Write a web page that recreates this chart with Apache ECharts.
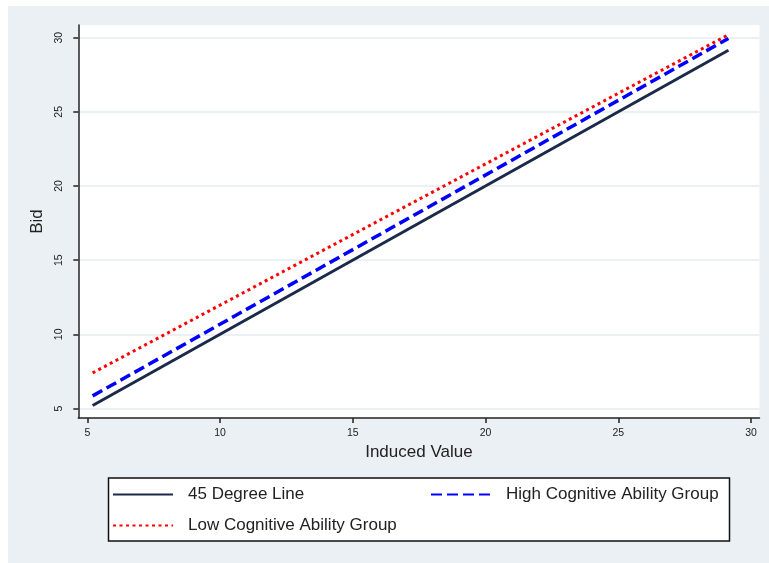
<!DOCTYPE html>
<html>
<head>
<meta charset="utf-8">
<script src="https://cdn.jsdelivr.net/npm/echarts@6/dist/echarts.min.js"></script>
<style>
html,body{margin:0;padding:0;background:#ffffff;}
#chart{width:769px;height:563px;}
</style>
</head>
<body>
<div id="chart"></div>
<script>
// Data
const xTicks = [5, 10, 15, 20, 25, 30];
const yTicks = [5, 10, 15, 20, 25, 30];
const inducedValue = [5.2, 29.15];
const line45 = [5.2, 29.15];
const highGroup = [5.85, 29.95];
const lowGroup = [7.4, 30.2];
const seriesNames = ['45 Degree Line', 'High Cognitive Ability Group', 'Low Cognitive Ability Group'];

const pairs = (xs, ys) => xs.map((x, i) => [x, ys[i]]);

const chart = echarts.init(document.getElementById('chart'), null, {renderer: 'canvas'});

const legendText = {fontFamily: 'Liberation Sans', fontSize: 17, color: '#222', padding: [0, 0, 0, 10]};
const legendBase = {
  orient: 'horizontal', padding: 0, itemWidth: 60, itemHeight: 14,
  textStyle: legendText, selectedMode: false,
  itemStyle: {opacity: 0}
};

chart.setOption({
  animation: false,
  backgroundColor: '#ffffff',
  graphic: [
    {type: 'rect', z: -10, silent: true, shape: {x: 8, y: 6, width: 761, height: 557}, style: {fill: '#eaf0f3'}},
    {type: 'rect', z: 1, silent: true, shape: {x: 108.5, y: 478, width: 621, height: 63}, style: {fill: '#ffffff', stroke: '#111', lineWidth: 1.5}}
  ],
  grid: {
    left: 78.3, right: 9.5, top: 25, bottom: 145,
    show: true, backgroundColor: '#ffffff', borderWidth: 0
  },
  legend: [
    Object.assign({}, legendBase, {left: 112, top: 486, data: [seriesNames[0]], z: 5}),
    Object.assign({}, legendBase, {left: 430, top: 486, data: [seriesNames[1]], z: 5}),
    Object.assign({}, legendBase, {left: 112, top: 517, data: [seriesNames[2]], z: 5})
  ],
  xAxis: {
    type: 'value', min: 4.661, max: 30.32,
    name: 'Induced Value', nameLocation: 'middle', nameGap: 24,
    nameTextStyle: {fontFamily: 'Liberation Sans', fontSize: 17, color: '#222'},
    axisLine: {show: true, onZero: false, lineStyle: {color: '#222', width: 1.5}},
    axisTick: {show: true, length: 5, customValues: xTicks, lineStyle: {color: '#222', width: 1.5}},
    axisLabel: {customValues: xTicks, margin: 10, fontFamily: 'Liberation Sans', fontSize: 10.5, color: '#222'},
    splitLine: {show: false}
  },
  yAxis: {
    type: 'value', min: 4.36, max: 30.856,
    name: 'Bid', nameLocation: 'middle', nameGap: 31, nameRotate: 90,
    nameTextStyle: {fontFamily: 'Liberation Sans', fontSize: 17, color: '#222'},
    axisLine: {show: true, onZero: false, lineStyle: {color: '#222', width: 1.5}},
    axisTick: {show: true, length: 5, customValues: yTicks, lineStyle: {color: '#222', width: 1.5}},
    axisLabel: {customValues: yTicks, rotate: 90, margin: 14, fontFamily: 'Liberation Sans', fontSize: 10.5, color: '#222'},
    splitLine: {show: true, lineStyle: {color: '#e3ebef', width: 1.5}}
  },
  series: [
    {
      name: seriesNames[0], type: 'line', data: pairs(inducedValue, line45),
      symbol: 'none', z: 3,
      lineStyle: {color: '#1c2a4a', width: 3, type: 'solid'},
      itemStyle: {color: '#1c2a4a'}
    },
    {
      name: seriesNames[1], type: 'line', data: pairs(inducedValue, highGroup),
      symbol: 'none', z: 4,
      lineStyle: {color: '#0000ff', width: 3.5, type: [11, 5], cap: 'butt'},
      itemStyle: {color: '#0000ff'}
    },
    {
      name: seriesNames[2], type: 'line', data: pairs(inducedValue, lowGroup),
      symbol: 'none', z: 5,
      lineStyle: {color: '#ff0000', width: 3, type: [3, 3.5], cap: 'butt'},
      itemStyle: {color: '#ff0000'}
    }
  ]
});
</script>
</body>
</html>
